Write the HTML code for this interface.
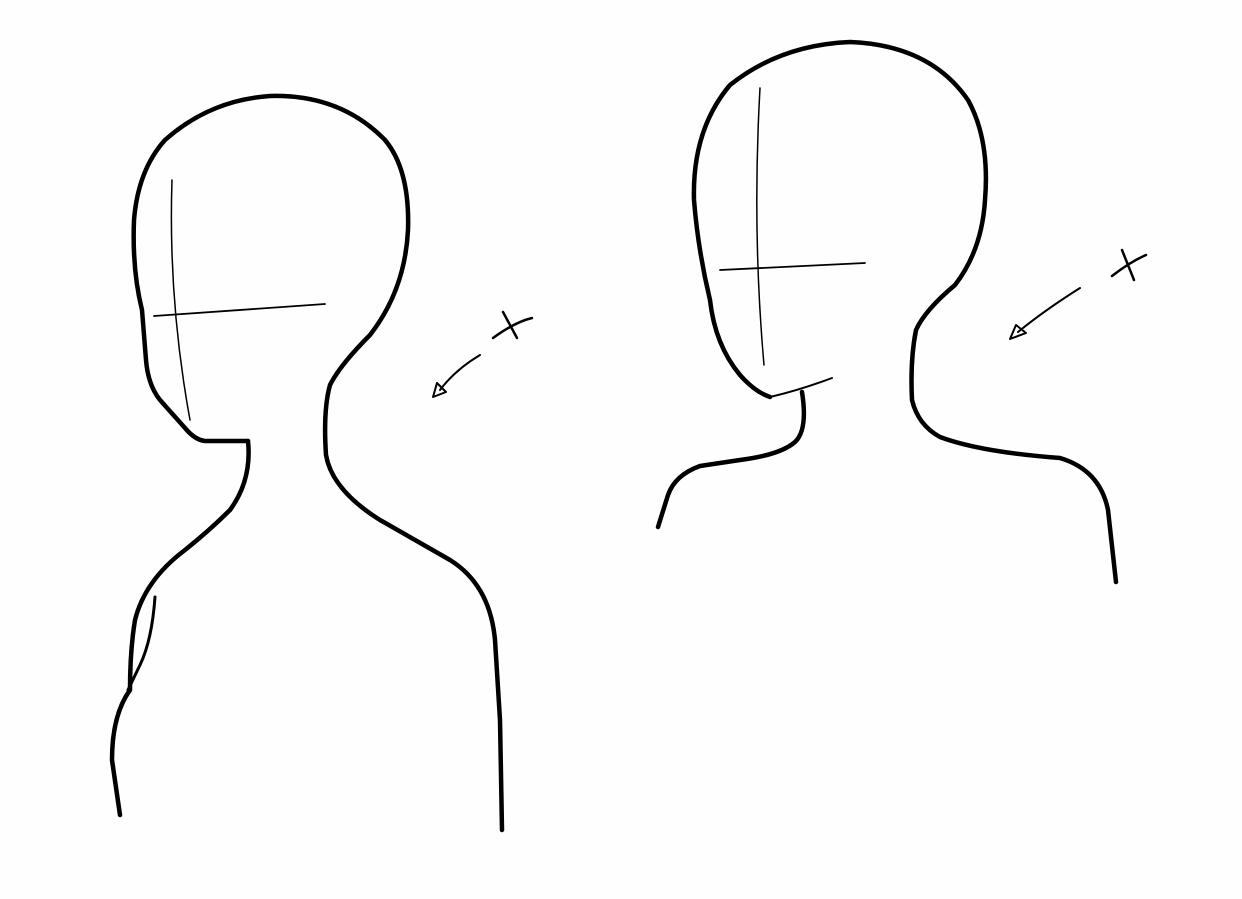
<!DOCTYPE html>
<html><head><meta charset="utf-8"><style>html,body{margin:0;padding:0;background:#fff}svg{display:block}</style></head>
<body>
<svg width="1242" height="899" viewBox="0 0 1242 899">
<rect width="1242" height="899" fill="#fefefe"/>
<g fill="none" stroke="#000" stroke-linecap="round" stroke-linejoin="round">
 <g>
  <path stroke-width="4.5" d="M248,441 L205,441 Q195,440 185,428 L160,400 Q148,385 146,360 L142,310 Q132,270 134,220 Q138,170 165,140 Q210,100 270,96 Q340,94 385,140 Q410,170 408,230 Q405,290 370,335 Q340,365 330,385 Q323,410 326,455 Q332,490 380,520 L450,560 Q490,585 495,640 L500,720 L502,830"/>
  <path stroke-width="4.5" d="M248,441 Q252,480 230,510 Q210,530 185,550 Q145,580 135,620 Q130,650 130,690 Q112,715 112,760 L120,815"/>
  <path stroke-width="3" d="M155,597 Q152,640 140,665 L128,690"/>
  <path stroke-width="1.5" d="M172,180 Q168,300 190,420"/>
  <path stroke-width="1.8" d="M154,316 L325,304"/>
  <path stroke-width="2" d="M480,355 Q455,370 440,390 M433,397 L437,383 L446,392 Z"/>
  <path stroke-width="2.5" d="M503,312 L517,338 M493,338 Q515,322 532,318"/>
 </g>
 <g>
  <path stroke-width="4.5" d="M770,397 Q755,392 740,375 Q715,345 710,300 Q698,250 694,200 Q692,130 730,85 Q780,45 850,42 Q930,45 968,100 Q990,140 985,200 Q982,250 955,285 Q925,310 916,330 Q910,360 912,400 Q918,425 940,437 Q980,452 1060,458 Q1100,470 1108,510 L1116,582"/>
  <path stroke-width="2" d="M770,397 Q800,390 832,378"/>
  <path stroke-width="4.5" d="M802,392 Q808,430 795,442 Q780,455 740,460 L700,466 Q675,475 668,495 L658,527"/>
  <path stroke-width="1.5" d="M760,88 Q752,230 764,365"/>
  <path stroke-width="1.8" d="M720,270 L865,263"/>
  <path stroke-width="2" d="M1080,288 Q1045,310 1018,332 M1010,339 L1016,325 L1026,333 Z"/>
  <path stroke-width="2.5" d="M1122,250 L1134,280 M1112,276 Q1130,262 1146,255"/>
 </g>
</g>
</svg>
</body></html>
